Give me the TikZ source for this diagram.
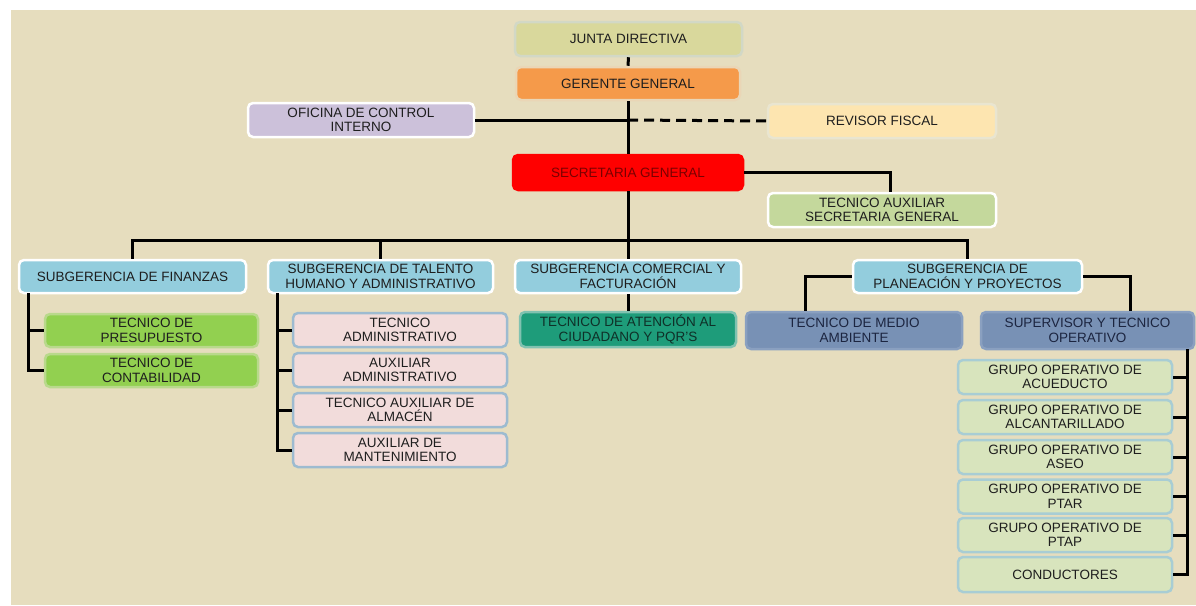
\documentclass[tikz,border=0pt]{standalone}
\usepackage{fontspec}
\setmainfont{Liberation Sans}
\newcommand\boxfont{\fontsize{13.5}{14.5}\selectfont}
\definecolor{bg}{HTML}{E6DDBE}
\definecolor{txt}{HTML}{1E1E1E}
\definecolor{cjunta}{HTML}{D9D89C}\definecolor{bjunta}{HTML}{D2D8C6}
\definecolor{cger}{HTML}{F59A4A}\definecolor{bger}{HTML}{EAD6B6}
\definecolor{cofi}{HTML}{CCC1DA}
\definecolor{crev}{HTML}{FDE5B0}\definecolor{brev}{HTML}{E9E5D0}
\definecolor{csec}{HTML}{FF0000}\definecolor{tsec}{HTML}{7A0000}
\definecolor{ctec}{HTML}{C4D89C}
\definecolor{csub}{HTML}{93CDDD}
\definecolor{cgreen}{HTML}{92D050}\definecolor{bgreen}{HTML}{B9D98C}
\definecolor{cpink}{HTML}{F2DCDB}\definecolor{bpink}{HTML}{9DBBD0}
\definecolor{cate}{HTML}{1E9C7A}\definecolor{bate}{HTML}{80C2B0}\definecolor{tate}{HTML}{0F3028}
\definecolor{csteel}{HTML}{7891B5}\definecolor{bsteel}{HTML}{8AA0C0}\definecolor{tsteel}{HTML}{1C2540}
\definecolor{cgrp}{HTML}{D8E4BD}\definecolor{bgrp}{HTML}{A8CDD4}
\tikzset{
  orgbox/.style={rounded corners=5pt, line width=2.5pt, draw=white, align=center,
    font=\boxfont, text=txt, inner sep=1pt},
  conn/.style={line width=3pt, black},
  subbox/.style={orgbox, fill=csub, minimum width=226pt, minimum height=33pt},
  greenbox/.style={orgbox, fill=cgreen, draw=bgreen, minimum width=213pt, minimum height=33pt},
  pinkbox/.style={orgbox, fill=cpink, draw=bpink, minimum width=214pt, minimum height=34pt},
  steelbox/.style={orgbox, fill=csteel, draw=bsteel, text=tsteel, minimum height=37pt},
  grpbox/.style={orgbox, fill=cgrp, draw=bgrp, minimum width=214pt, minimum height=34pt},
}
\begin{document}
\begin{tikzpicture}[x=1pt,y=-1pt]
\useasboundingbox (0,0) rectangle (1196,605);
\fill[white] (0,0) rectangle (1196,605);
\fill[bg] (11,10) rectangle (1196,605);

% top
\node[orgbox, fill=cjunta, draw=bjunta, minimum width=227pt, minimum height=34pt] (junta) at (628.5,39) {JUNTA DIRECTIVA};
\node[orgbox, fill=cger, draw=bger, minimum width=224pt, minimum height=33pt] (ger) at (628,83.5) {GERENTE GENERAL};
\node[orgbox, fill=cofi, minimum width=226pt, minimum height=34pt] (ofi) at (361,120) {OFICINA DE CONTROL\\INTERNO};
\node[orgbox, fill=crev, draw=brev, minimum width=228pt, minimum height=34pt] (rev) at (882,121) {REVISOR FISCAL};
\node[orgbox, fill=csec, draw=csec, text=tsec, minimum width=230pt, minimum height=35pt] (sec) at (628,172.5) {SECRETARIA GENERAL};
\node[orgbox, fill=ctec, minimum width=228pt, minimum height=34pt] (tecaux) at (882,210) {TECNICO AUXILIAR\\SECRETARIA GENERAL};

% subgerencias
\node[subbox, minimum width=227pt] (fin) at (132.5,276.5) {SUBGERENCIA DE FINANZAS};
\node[subbox, minimum width=225pt] (tal) at (380.5,276.5) {SUBGERENCIA DE TALENTO\\HUMANO Y ADMINISTRATIVO};
\node[subbox] (com) at (628,276.5) {SUBGERENCIA COMERCIAL Y\\FACTURACIÓN};
\node[subbox, minimum width=229pt] (pla) at (967.5,276.5) {SUBGERENCIA DE\\PLANEACIÓN Y PROYECTOS};

% finanzas
\node[greenbox] (pre) at (151.5,330.5) {TECNICO DE\\PRESUPUESTO};
\node[greenbox] (cont) at (151.5,370.5) {TECNICO DE\\CONTABILIDAD};

% talento
\node[pinkbox] (p1) at (400,330) {TECNICO\\ADMINISTRATIVO};
\node[pinkbox] (p2) at (400,370) {AUXILIAR\\ADMINISTRATIVO};
\node[pinkbox] (p3) at (400,410) {TECNICO AUXILIAR DE\\ALMACÉN};
\node[pinkbox] (p4) at (400,450) {AUXILIAR DE\\MANTENIMIENTO};

% comercial
\node[orgbox, fill=cate, draw=bate, text=tate, minimum width=216pt, minimum height=35pt] (ate) at (628,329.5) {TECNICO DE ATENCIÓN AL\\CIUDADANO Y PQR'S};

% planeacion
\node[steelbox, minimum width=216pt] (med) at (854,330.5) {TECNICO DE MEDIO\\AMBIENTE};
\node[steelbox, minimum width=213pt] (sup) at (1087.5,330.5) {SUPERVISOR Y TECNICO\\OPERATIVO};

\node[grpbox] (g1) at (1065,377) {GRUPO OPERATIVO DE\\ACUEDUCTO};
\node[grpbox] (g2) at (1065,417) {GRUPO OPERATIVO DE\\ALCANTARILLADO};
\node[grpbox] (g3) at (1065,457) {GRUPO OPERATIVO DE\\ASEO};
\node[grpbox] (g4) at (1065,496.5) {GRUPO OPERATIVO DE\\PTAR};
\node[grpbox] (g5) at (1065,535) {GRUPO OPERATIVO DE\\PTAP};
\node[grpbox, minimum height=35pt] (g6) at (1065,574.5) {CONDUCTORES};

% connectors
\coordinate (vx) at (628,120);
\coordinate (bus) at (628,240);
\draw[conn] (junta.south) -- (ger.north);
\draw[conn] (ger.south) -- (sec.north);
\draw[conn] (ofi.east) -- (vx);
\draw[conn, dash pattern=on 10pt off 6pt] (vx) -- (rev.west);
\draw[conn] (sec.east) -| ([xshift=8pt]tecaux.north);
\draw[conn] (sec.south) -- (com.north);
\draw[conn] (fin.north) |- (bus) -| (pla.north);
\draw[conn] (tal.north) -- (tal.north |- bus);
\draw[conn] (com.south) -- (ate.north);
\draw[conn] (pla.west) -| ([xshift=-49pt]med.north);
\draw[conn] (pla.east) -| ([xshift=42.5pt]sup.north);

% finanzas tree
\coordinate (fv) at (28,293);
\draw[conn] (fv) |- (cont.west);
\draw[conn] (pre.west) -- (fv |- pre.west);
% talento tree
\coordinate (tv) at (277,293);
\draw[conn] (tv) |- (p4.west);
\foreach \n in {p1,p2,p3}{\draw[conn] (\n.west) -- (tv |- \n.west);}
% supervisor tree
\coordinate (sv) at (1187,349);
\draw[conn] (sv) |- (g6.east);
\foreach \n in {g1,g2,g3,g4,g5}{\draw[conn] (\n.east) -- (sv |- \n.east);}
\end{tikzpicture}
\end{document}
